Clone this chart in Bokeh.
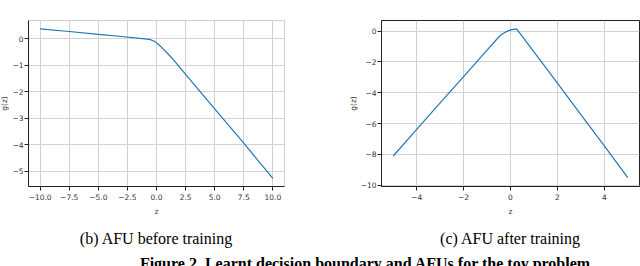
from bokeh.plotting import figure
from bokeh.layouts import row, column
from bokeh.models import FixedTicker, Range1d, Div
from bokeh.embed import file_html
from bokeh.resources import INLINE

# ---- data: (b) AFU before training ----
z_before = [-10, -7.5, -5, -3, -1, -0.5, -0.2, 0, 0.25, 0.5, 1, 1.5, 2.5, 5, 7.5, 10]
g_before = [0.37, 0.27, 0.16, 0.08, -0.01, -0.04, -0.1, -0.16, -0.25, -0.36, -0.58, -0.82, -1.35, -2.65, -3.95, -5.28]

# ---- data: (c) AFU after training ----
z_after = [-5, -4, -3, -2, -1, -0.5, -0.35, -0.2, 0, 0.26, 0.5, 1, 2, 3, 4, 5]
g_after = [-8.1, -6.38, -4.66, -2.95, -1.23, -0.38, -0.18, -0.05, 0.08, 0.15, -0.34, -1.35, -3.38, -5.41, -7.44, -9.5]

# ---- tick labels ----
xt_before = [-10, -7.5, -5, -2.5, 0, 2.5, 5, 7.5, 10]
xl_before = ["\u221210.0", "\u22127.5", "\u22125.0", "\u22122.5", "0.0", "2.5", "5.0", "7.5", "10.0"]
yt_before = [0, -1, -2, -3, -4, -5]
yl_before = ["0", "\u22121", "\u22122", "\u22123", "\u22124", "\u22125"]
xt_after = [-4, -2, 0, 2, 4]
xl_after = ["\u22124", "\u22122", "0", "2", "4"]
yt_after = [0, -2, -4, -6, -8, -10]
yl_after = ["0", "\u22122", "\u22124", "\u22126", "\u22128", "\u221210"]

captions = ["(b) AFU before training", "(c) AFU after training"]
figure_caption = "Figure 2. Learnt decision boundary and AFUs for the toy problem."

LINE = "#1f77b4"
GRID = "#d2d2d2"
TICKC = "#333333"


def make(z, g, xt, xl, yt, yl, xr, yr, width, height, borders, caption, outline):
    p = figure(width=width, height=height, output_backend="svg", toolbar_location=None,
               title=caption, title_location="below",
               x_range=Range1d(*xr), y_range=Range1d(*yr),
               min_border_left=borders[0], min_border_right=borders[1],
               min_border_top=borders[2], min_border_bottom=borders[3])
    p.line(z, g, line_color=LINE, line_width=1.2)
    p.xaxis.ticker = FixedTicker(ticks=xt)
    p.yaxis.ticker = FixedTicker(ticks=yt)
    p.xaxis.major_label_overrides = {t: l for t, l in zip(xt, xl)}
    p.yaxis.major_label_overrides = {t: l for t, l in zip(yt, yl)}
    p.xaxis.axis_label = "z"
    p.yaxis.axis_label = "g(z)"
    for ax in (p.xaxis[0], p.yaxis[0]):
        ax.axis_line_color = "#222222"
        ax.axis_line_width = 1
        ax.major_tick_out = 4
        ax.major_tick_in = 0
        ax.major_tick_line_color = "#222222"
        ax.minor_tick_out = 0
        ax.minor_tick_in = 0
        ax.major_label_text_font = "DejaVu Sans"
        ax.major_label_text_font_size = "7.5px"
        ax.major_label_text_color = TICKC
        ax.major_label_standoff = 3
        ax.axis_label_text_font = "DejaVu Sans"
        ax.axis_label_text_font_size = "7.5px"
        ax.axis_label_text_font_style = "normal"
        ax.axis_label_text_color = TICKC
        ax.axis_label_standoff = 4
    p.yaxis.major_label_standoff = 1
    p.yaxis.axis_label_standoff = 0
    p.yaxis.major_label_orientation = "horizontal"
    p.xgrid.ticker = FixedTicker(ticks=xt)
    p.ygrid.ticker = FixedTicker(ticks=yt)
    p.grid.grid_line_color = GRID
    p.grid.grid_line_width = 1
    p.outline_line_color = outline
    p.outline_line_width = 1
    p.title.align = "center"
    p.title.text_font = "Liberation Serif"
    p.title.text_font_size = "16px"
    p.title.text_font_style = "normal"
    p.title.text_color = "#000000"
    p.title.standoff = 18
    p.background_fill_color = "white"
    p.border_fill_color = "white"
    return p


p1 = make(z_before, g_before, xt_before, xl_before, yt_before, yl_before,
          (-11, 11), (-5.585, 0.685), 334, 262, (32, 46, 20, 76), captions[0], "#cfcfcf")
p2 = make(z_after, g_after, xt_after, xl_after, yt_after, yl_after,
          (-5.5, 5.5), (-10.08, 0.69), 310, 262, (51, 1, 18, 76), captions[1], "#222222")

cap = Div(text=figure_caption, width=644, height=10,
          styles={"margin-top": "-6px", "overflow": "hidden",
                  "font-family": "Liberation Serif", "font-size": "16px",
                  "font-weight": "bold", "line-height": "16px", "color": "#000000",
                  "text-align": "center", "padding-left": "88px",
                  "box-sizing": "border-box", "white-space": "nowrap"})

layout = column(row(p1, p2, width=644, height=262), cap, width=644, height=266,
                styles={"position": "absolute", "left": "-4px", "top": "0px"})

open("out.html", "w").write(file_html(layout, INLINE))
